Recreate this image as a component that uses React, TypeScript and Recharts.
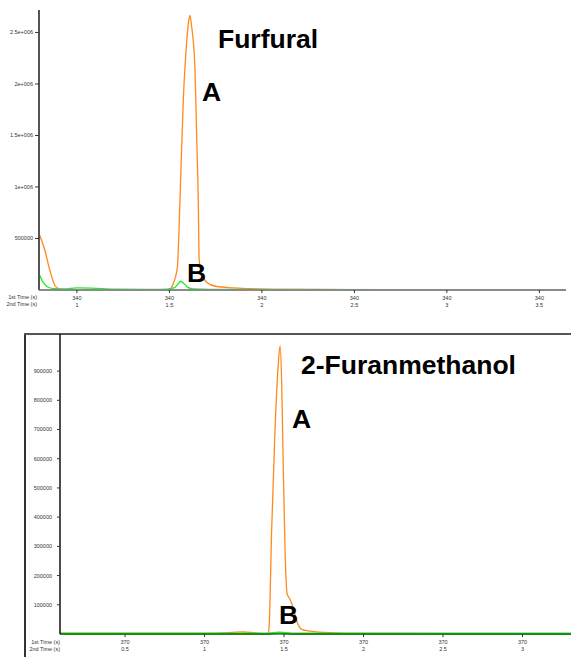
import React from "react";
import { LineChart, Line, XAxis, YAxis } from "recharts";

// Furfural (top) - 2nd time axis in seconds, signal in counts
const furfuralATime = [0.795, 0.827, 0.854, 0.881, 0.898, 0.935, 1.2, 1.5, 1.521, 1.543, 1.557, 1.575, 1.593, 1.605, 1.611, 1.62, 1.638, 1.647, 1.656, 1.661, 1.674, 1.701, 1.755, 1.844, 1.936, 2.2, 2.8, 3.644];
const furfuralASignal = [550000, 383000, 189000, 44000, 17000, 4000, 3000, 3000, 63000, 221000, 869000, 1840000, 2400000, 2620000, 2665000, 2560000, 2160000, 1520000, 869000, 286000, 160000, 76000, 34000, 21000, 12000, 5000, 3000, 2000];
const furfuralBTime = [0.795, 0.817, 0.844, 0.881, 0.93, 1.0, 1.08, 1.2, 1.45, 1.525, 1.545, 1.561, 1.58, 1.6, 1.629, 1.8, 3.644];
const furfuralBSignal = [157000, 76000, 27000, 12000, 10000, 20000, 18000, 8000, 5000, 20000, 55000, 85000, 60000, 25000, 10000, 5000, 4000];

// 2-Furanmethanol (bottom)
const furanATime = [0.091, 0.657, 0.972, 1.129, 1.242, 1.317, 1.401, 1.407, 1.422, 1.443, 1.464, 1.475, 1.485, 1.495, 1.506, 1.52, 1.537, 1.558, 1.58, 1.611, 1.663, 1.808, 1.978, 3.305];
const furanASignal = [2000, 2000, 2000, 4000, 7000, 4000, 0, 33000, 353000, 695000, 924000, 986000, 867000, 581000, 296000, 136000, 120000, 90000, 44500, 16000, 10000, 4000, 2000, 1000];
const furanBTime = [0.091, 1.0, 1.4, 1.47, 1.55, 2.5, 3.305];
const furanBSignal = [1000, 1000, 1000, 4000, 1000, 1000, 1000];

const topTicks = [1, 1.5, 2, 2.5, 3, 3.5];
const topFirstLabel = "340";
const topSecondLabels = ["1", "1.5", "2", "2.5", "3", "3.5"];
const topYTicks = [500000, 1000000, 1500000, 2000000, 2500000];
const topYLabels = ["500000", "1e+006", "1.5e+006", "2e+006", "2.5e+006"];

const botTicks = [0.5, 1, 1.5, 2, 2.5, 3];
const botFirstLabel = "370";
const botSecondLabels = ["0.5", "1", "1.5", "2", "2.5", "3"];
const botYTicks = [100000, 200000, 300000, 400000, 500000, 600000, 700000, 800000, 900000];

const ORANGE = "#ff8a1c";
const GREEN = "#22ea22";
const SMALL = { fontFamily: "Liberation Sans", fontSize: 5.5, fill: "#333" };

const zip = (t: number[], v: number[]) => t.map((x, i) => ({ t: x, v: v[i] }));

const makeTimeTick = (first: string, seconds: string[]) => (props: any) => {
  const { x, y, index } = props;
  return (
    <g>
      <text x={x} y={y + 5} textAnchor="middle" {...SMALL}>{first}</text>
      <text x={x} y={y + 12} textAnchor="middle" {...SMALL}>{seconds[index]}</text>
    </g>
  );
};

const bold: React.CSSProperties = {
  position: "absolute",
  fontFamily: "Liberation Sans",
  fontWeight: "bold",
  fontSize: 26.5,
  lineHeight: 1,
  color: "#000",
  whiteSpace: "nowrap",
};

const small: React.CSSProperties = {
  position: "absolute",
  fontFamily: "Liberation Sans",
  fontSize: 5.5,
  lineHeight: "7px",
  color: "#333",
  textAlign: "right",
  whiteSpace: "nowrap",
};

export default function App() {
  return (
    <div style={{ position: "absolute", left: 0, top: 0, width: 571, height: 657, background: "#fff", overflow: "hidden" }}>
      <div style={{ position: "absolute", left: 0, top: 0 }}>
        <LineChart width={571} height={320} margin={{ top: 10, right: 5, bottom: 10, left: 0 }}>
          <XAxis
            dataKey="t"
            type="number"
            domain={[0.795, 3.644]}
            ticks={topTicks}
            allowDataOverflow
            height={20}
            axisLine={{ stroke: "#8a8a8a", strokeWidth: 2 }}
            tickLine={{ stroke: "#333" }}
            tickSize={3}
            tick={makeTimeTick(topFirstLabel, topSecondLabels)}
          />
          <YAxis
            type="number"
            domain={[0, 2718000]}
            ticks={topYTicks}
            width={39}
            axisLine={{ stroke: "#555", strokeWidth: 2 }}
            tickLine={{ stroke: "#333" }}
            tickSize={4}
            tickMargin={2}
            tick={SMALL}
            tickFormatter={(v: number) => topYLabels[topYTicks.indexOf(v)]}
          />
          <Line data={zip(furfuralATime, furfuralASignal)} dataKey="v" type="monotone" stroke={ORANGE} strokeWidth={1.3} dot={false} isAnimationActive={false} />
          <Line data={zip(furfuralBTime, furfuralBSignal)} dataKey="v" type="monotone" stroke={GREEN} strokeWidth={1.3} dot={false} isAnimationActive={false} />
        </LineChart>
      </div>
      <div style={{ ...small, left: 0, top: 294, width: 37 }}>1st Time (s)<br />2nd Time (s)</div>
      <div style={{ ...bold, left: 218, top: 26 }}>Furfural</div>
      <div style={{ ...bold, left: 202, top: 79 }}>A</div>
      <div style={{ ...bold, left: 187, top: 260 }}>B</div>

      {/* window frame around the second chart */}
      <div style={{ position: "absolute", left: 24, top: 333, width: 2, height: 324, background: "#333" }} />
      <div style={{ position: "absolute", left: 24, top: 333, width: 547, height: 2, background: "#555" }} />

      <div style={{ position: "absolute", left: 0, top: 320 }}>
        <LineChart width={571} height={337} margin={{ top: 14, right: 0, bottom: 0, left: 0 }}>
          <XAxis
            dataKey="t"
            type="number"
            domain={[0.091, 3.305]}
            ticks={botTicks}
            allowDataOverflow
            height={23}
            axisLine={{ stroke: "#222", strokeWidth: 1 }}
            tickLine={{ stroke: "#333" }}
            tickSize={3}
            tick={makeTimeTick(botFirstLabel, botSecondLabels)}
          />
          <YAxis
            type="number"
            domain={[0, 1027000]}
            ticks={botYTicks}
            width={60}
            axisLine={{ stroke: "#111", strokeWidth: 1.5 }}
            tickLine={{ stroke: "#333" }}
            tickSize={3}
            tickMargin={5}
            tick={SMALL}
          />
          <Line data={zip(furanATime, furanASignal)} dataKey="v" type="monotone" stroke={ORANGE} strokeWidth={1.3} dot={false} isAnimationActive={false} />
          <Line data={zip(furanBTime, furanBSignal)} dataKey="v" type="monotone" stroke={GREEN} strokeWidth={2.5} dot={false} isAnimationActive={false} />
        </LineChart>
      </div>
      <div style={{ ...small, left: 0, top: 639, width: 60 }}>1st Time (s)<br />2nd Time (s)</div>
      <div style={{ ...bold, left: 301, top: 352 }}>2-Furanmethanol</div>
      <div style={{ ...bold, left: 292, top: 406 }}>A</div>
      <div style={{ ...bold, left: 279, top: 602 }}>B</div>
    </div>
  );
}
